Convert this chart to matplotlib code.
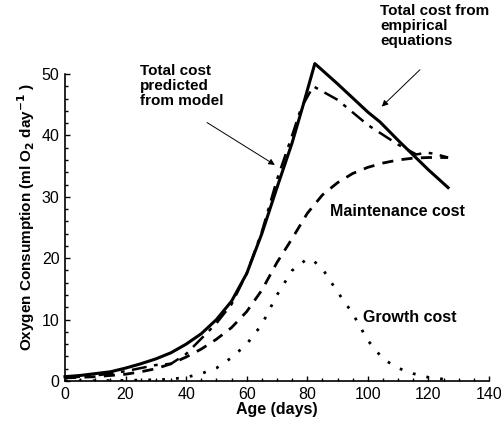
import numpy as np
import matplotlib
matplotlib.use("Agg")
import matplotlib.pyplot as plt
from matplotlib.ticker import MultipleLocator

# total cost, solid line
age_solid = [0, 5, 10, 15, 20, 25, 30, 35, 40, 45, 50, 55, 60, 65, 70, 75,
             78.5, 82.5, 90, 100, 104, 110, 120, 126.5]
cost_solid = [0.7, 0.9, 1.2, 1.5, 2.1, 2.8, 3.6, 4.6, 6.0, 7.7, 10.0, 13.0,
              17.5, 24.0, 31.5, 38.8, 44.7, 51.7, 48.4, 43.8, 42.2, 39.2,
              34.4, 31.5]

# total cost, dash-dot line
age_dashdot = [0, 5, 10, 15, 20, 25, 30, 35, 40, 45, 50, 55, 60, 65, 70, 75,
               78, 82, 90, 100, 110, 116, 119.5, 122, 126.5]
cost_dashdot = [0.5, 0.7, 0.9, 1.2, 1.6, 2.1, 2.6, 2.8, 4.4, 6.9, 9.4, 12.5,
                17.5, 24.3, 32.8, 40.0, 44.5, 48.0, 45.8, 41.7, 38.5, 36.9,
                37.2, 37.0, 36.4]

# maintenance cost
age_maint = [0, 5, 10, 15, 20, 25, 30, 35, 40, 45, 50, 55, 60, 65, 70, 75,
             80, 85, 90, 95, 100, 105, 110, 115, 120, 126.5]
cost_maint = [0.5, 0.6, 0.7, 0.9, 1.1, 1.5, 2.0, 2.8, 3.9, 5.2, 6.8, 8.7,
              11.3, 14.8, 19.3, 23.2, 27.3, 30.3, 32.3, 33.8, 34.8, 35.5,
              36.0, 36.3, 36.4, 36.4]

# growth cost
age_growth = [0, 10, 20, 30, 35, 40, 45, 50, 55, 60, 65, 70, 75, 80, 82, 85,
              90, 95, 100, 105, 110, 115, 120, 125]
cost_growth = [0.0, 0.05, 0.1, 0.2, 0.3, 0.6, 1.2, 2.1, 3.8, 6.0, 9.2, 14.0,
               18.0, 19.9, 19.6, 18.3, 14.5, 11.0, 6.6, 3.6, 2.1, 1.2, 0.6, 0.3]

plt.rcParams['font.family'] = ['Liberation Sans', 'DejaVu Sans']

fig = plt.figure(figsize=(5.01, 4.23), dpi=100)
ax = fig.add_axes([0.1297, 0.0993, 0.8463, 0.7257])

ax.plot(age_solid, cost_solid, color='black', lw=2.2, clip_on=False)
ax.plot(age_dashdot, cost_dashdot, color='black', lw=1.8,
        dashes=(6, 3, 1.5, 3), clip_on=False)
ax.plot(age_maint, cost_maint, color='black', lw=2.0, dashes=(4, 3))
ax.plot(age_growth, cost_growth, color='black', lw=2.0, dashes=(1, 4))

ax.set_xlim(0, 140)
ax.set_ylim(0, 50)
ax.xaxis.set_major_locator(MultipleLocator(20))
ax.xaxis.set_minor_locator(MultipleLocator(5))
ax.yaxis.set_major_locator(MultipleLocator(10))
ax.yaxis.set_minor_locator(MultipleLocator(2))
ax.tick_params(which='both', direction='in', width=1, labelsize=11.5,
               colors='black', pad=4)
ax.tick_params(which='major', length=3.5)
ax.tick_params(which='minor', length=2)

for side in ['top', 'right']:
    ax.spines[side].set_visible(False)
for side in ['left', 'bottom']:
    ax.spines[side].set_linewidth(1.2)

ax.set_xlabel('Age (days)', fontsize=11.5, fontweight='bold', labelpad=0)
ax.set_ylabel('Oxygen Consumption (ml O$_\\mathbf{2}$ day$^{\\mathbf{-1}}$ )',
              fontsize=11, fontweight='bold')
ax.yaxis.set_label_coords(-0.066, 0.535)

arrow = dict(arrowstyle='-|>', color='black', lw=0.7, mutation_scale=9,
             shrinkA=0, shrinkB=0)

ax.text(24.8, 51.6, 'Total cost\npredicted\nfrom model', fontsize=11,
        fontweight='bold', ha='left', va='top', linespacing=1.1,
        clip_on=False)
ax.annotate('', xy=(69.3, 35.2), xytext=(46.9, 42.1), arrowprops=arrow)

ax.text(104.0, 61.4, 'Total cost from\nempirical\nequations', fontsize=11,
        fontweight='bold', ha='left', va='top', linespacing=1.1,
        clip_on=False)
ax.annotate('', xy=(104.6, 44.7), xytext=(117.2, 50.7), arrowprops=arrow,
            annotation_clip=False)

ax.text(87.5, 27.6, 'Maintenance cost', fontsize=11.5, fontweight='bold',
        ha='left', va='center')
ax.text(98.3, 10.3, 'Growth cost', fontsize=11.5, fontweight='bold',
        ha='left', va='center')

fig.savefig('out.png', dpi=100)
